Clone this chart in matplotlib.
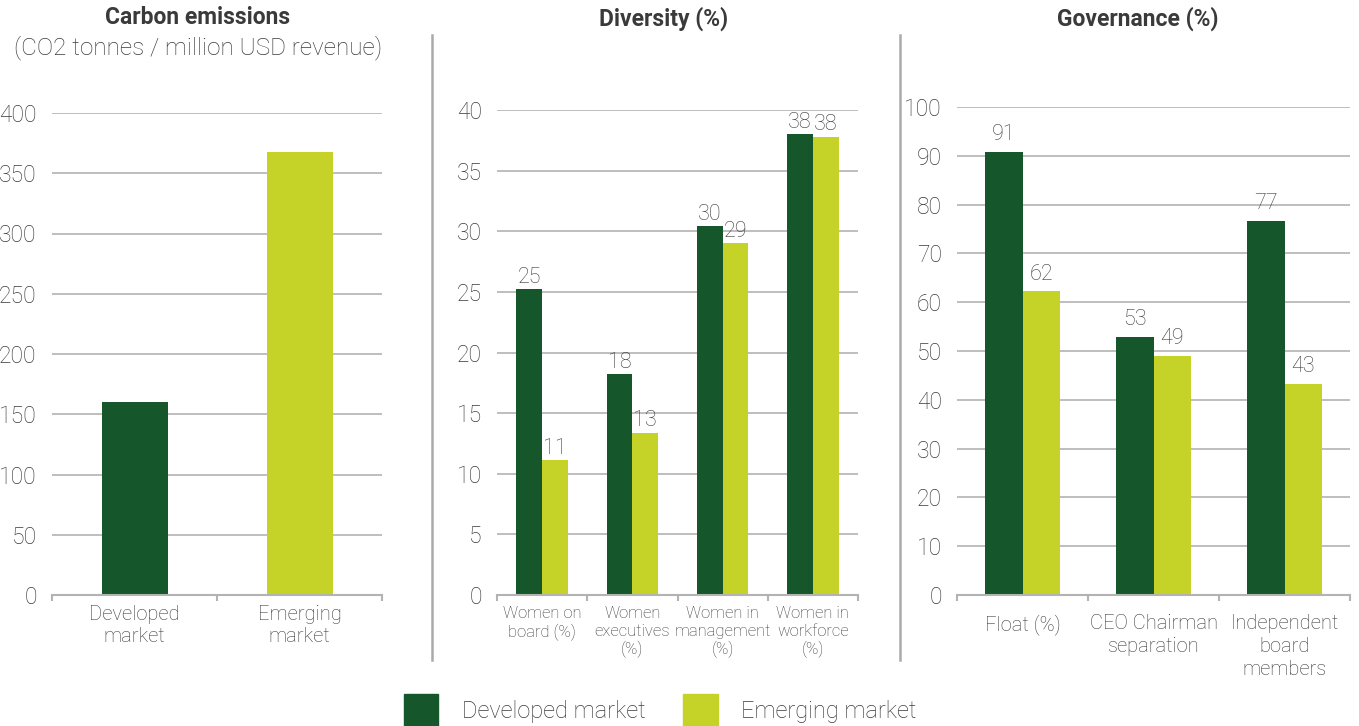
import matplotlib.pyplot as plt
import matplotlib.lines as mlines
import matplotlib.patches as mpatches
import numpy as np

plt.rcParams['font.family'] = ['Roboto', 'DejaVu Sans']
plt.rcParams['font.weight'] = 'light'

DARK = '#15572b'
LIME = '#c5d227'
TXT = '#3a3a3a'
GRID = '#b3b3b3'

carbon_cats = ['Developed\nmarket', 'Emerging\nmarket']
carbon_vals = [160, 368]

div_cats = ['Women on\nboard (%)', 'Women\nexecutives\n(%)', 'Women in\nmanagement\n(%)', 'Women in\nworkforce\n(%)']
div_dev = [25.2, 18.2, 30.4, 38.0]
div_emg = [11.1, 13.4, 29.0, 37.8]
div_lbl_dev = ['25', '18', '30', '38']
div_lbl_emg = ['11', '13', '29', '38']

gov_cats = ['Float (%)', 'CEO Chairman\nseparation', 'Independent\nboard\nmembers']
gov_dev = [90.8, 52.8, 76.6]
gov_emg = [62.2, 48.9, 43.2]
gov_lbl_dev = ['91', '53', '77']
gov_lbl_emg = ['62', '49', '43']

W, H = 1359, 726
fig = plt.figure(figsize=(W / 100, H / 100), dpi=100)


def box(x0, x1, ytop, ybot):
    return [x0 / W, 1 - ybot / H, (x1 - x0) / W, (ybot - ytop) / H]


def style(ax, ymax, step, xsize, xpad):
    ax.set_ylim(0, ymax)
    ax.set_yticks(np.arange(0, ymax + 1, step))
    ax.grid(axis='y', color=GRID, linewidth=1.2)
    ax.set_axisbelow(True)
    for s in ['top', 'right', 'left']:
        ax.spines[s].set_visible(False)
    ax.spines['bottom'].set_color(GRID)
    ax.spines['bottom'].set_linewidth(1.5)
    ax.tick_params(axis='y', length=0, pad=11, labelsize=16.5, labelcolor=TXT)
    ax.tick_params(axis='x', which='major', length=0, pad=xpad, labelsize=xsize, labelcolor=TXT)
    ax.tick_params(axis='x', which='minor', length=4, color=GRID, width=1.5)


def fig_text(px, py, s, **kw):
    fig.text(px / W, 1 - py / H, s, ha='center', va='center', color=TXT, **kw)


# panel 1 - carbon
ax1 = fig.add_axes(box(52, 382, 113, 595))
x = np.arange(len(carbon_vals))
ax1.bar(x, carbon_vals, width=0.4, color=[DARK, LIME])
ax1.set_xlim(-0.5, len(x) - 0.5)
ax1.set_xticks(x)
ax1.set_xticklabels(carbon_cats, linespacing=1.25)
ax1.set_xticks(np.arange(-0.5, len(x)), minor=True)
style(ax1, 400, 50, 14.5, 7)
fig_text(198, 18, 'Carbon emissions', fontsize=16.5, fontweight='bold')
fig_text(198, 48, '(CO2 tonnes / million USD revenue)', fontsize=17.5)

# panel 2 - diversity
ax2 = fig.add_axes(box(497, 858, 110, 595))
x = np.arange(len(div_cats))
bw = 0.285
b1 = ax2.bar(x - bw / 2, div_dev, width=bw, color=DARK)
b2 = ax2.bar(x + bw / 2, div_emg, width=bw, color=LIME)
ax2.bar_label(b1, labels=div_lbl_dev, padding=1, fontsize=15.5, color=TXT)
ax2.bar_label(b2, labels=div_lbl_emg, padding=1, fontsize=15.5, color=TXT)
ax2.set_xlim(-0.5, len(x) - 0.5)
ax2.set_xticks(x)
ax2.set_xticklabels(div_cats, linespacing=1.2)
ax2.set_xticks(np.arange(-0.5, len(x)), minor=True)
style(ax2, 40, 5, 12, 8)
fig_text(664, 19, 'Diversity (%)', fontsize=16.5, fontweight='bold')

# panel 3 - governance
ax3 = fig.add_axes(box(957, 1350, 107, 595))
x = np.arange(len(gov_cats))
bw = 0.285
b1 = ax3.bar(x - bw / 2, gov_dev, width=bw, color=DARK)
b2 = ax3.bar(x + bw / 2, gov_emg, width=bw, color=LIME)
ax3.bar_label(b1, labels=gov_lbl_dev, padding=5, fontsize=15.5, color=TXT)
ax3.bar_label(b2, labels=gov_lbl_emg, padding=5, fontsize=15.5, color=TXT)
ax3.set_xlim(-0.5, len(x) - 0.5)
ax3.set_xticks(x)
ax3.set_xticklabels(gov_cats, linespacing=1.25)
ax3.set_xticks(np.arange(-0.5, len(x)), minor=True)
style(ax3, 100, 10, 14.5, 14)
fig_text(1138, 19, 'Governance (%)', fontsize=16.5, fontweight='bold')

# vertical separators
for xs in [432, 900]:
    fig.add_artist(mlines.Line2D([xs / W, xs / W], [1 - 35 / H, 1 - 660 / H], color='#aaaaaa', linewidth=1.8))

# legend
handles = [mpatches.Patch(color=DARK, label='Developed market'),
           mpatches.Patch(color=LIME, label='Emerging market')]
leg = fig.legend(handles=handles, ncol=2, loc='lower center', bbox_to_anchor=(0.486, -0.03),
                 frameon=False, fontsize=17, handlelength=1.45, handleheight=1.75,
                 columnspacing=1.6, handletextpad=1.0)
for t in leg.get_texts():
    t.set_color(TXT)

fig.savefig('out.png', dpi=100)
